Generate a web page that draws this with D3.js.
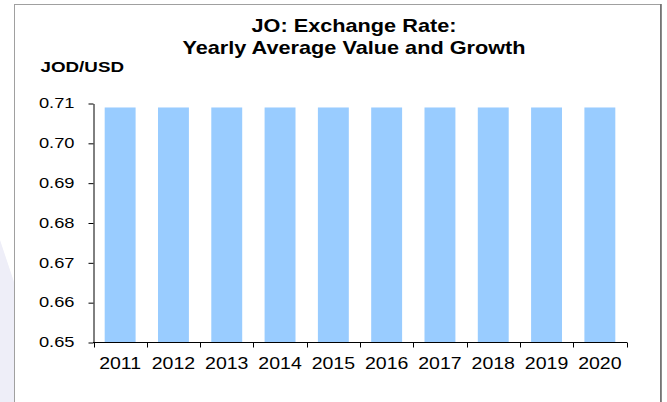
<!DOCTYPE html>
<html><head><meta charset="utf-8">
<script src="https://cdn.jsdelivr.net/npm/d3@7"></script>
<style>body{margin:0;background:#fff}svg{display:block}text{font-family:Arial,"Liberation Sans",sans-serif;fill:#000}</style>
</head><body>
<svg id="c" width="667" height="402"></svg>
<script>
const years = ["2011","2012","2013","2014","2015","2016","2017","2018","2019","2020"];
const rates = [0.709,0.709,0.709,0.709,0.709,0.709,0.709,0.709,0.709,0.709];
const yTicks = [0.65,0.66,0.67,0.68,0.69,0.70,0.71];
const titleLines = ["JO: Exchange Rate:","Yearly Average Value and Growth"];
const unitLabel = "JOD/USD";

const svg = d3.select("#c");
// faint background shape at left
svg.append("path").attr("d","M0,240 L14,282 L14,402 L0,402 Z").attr("fill","#eeeef8");
// frame
svg.append("rect").attr("x",14.5).attr("y",4.5).attr("width",646).attr("height",410)
  .attr("fill","#fff").attr("stroke","#a0a0a0").attr("stroke-width",1);
svg.append("line").attr("x1",661).attr("x2",661).attr("y1",4).attr("y2",402).attr("stroke","#666").attr("stroke-width",1.5);

const x = d3.scaleBand().domain(years).range([93.5,626.5]).paddingInner(0.42).paddingOuter(0.21);
const y = d3.scaleLinear().domain([0.65,0.71]).range([342.5,103.5]);

svg.selectAll("rect.bar").data(years).enter().append("rect").attr("class","bar")
  .attr("x",d=>x(d)).attr("width",x.bandwidth())
  .attr("y",(d,i)=>y(rates[i])).attr("height",(d,i)=>y(0.65)-y(rates[i]))
  .attr("fill","#99ccff");

const ya = svg.append("g").attr("transform","translate(93.5,0)")
  .call(d3.axisLeft(y).tickValues(yTicks).tickFormat("").tickSizeInner(5).tickSizeOuter(0));
ya.select(".domain").attr("stroke","#000");
const fmt = d3.format(".2f");
svg.selectAll("text.yl").data(yTicks).enter().append("text").attr("class","yl")
  .attr("transform",d=>`translate(74.5,${y(d)+4.8}) scale(1.18,1)`)
  .attr("text-anchor","end").attr("font-size",15.5).text(d=>fmt(d));

const xb = d3.scaleLinear().domain([0,10]).range([93.5,626.5]);
const xa = svg.append("g").attr("transform","translate(0,342.5)");
xa.append("line").attr("x1",93).attr("x2",627).attr("stroke","#000");
xa.selectAll("line.t").data(d3.range(11)).enter().append("line").attr("class","t")
  .attr("x1",d=>Math.round(xb(d))+0.5).attr("x2",d=>Math.round(xb(d))+0.5).attr("y1",0).attr("y2",5).attr("stroke","#000");
svg.selectAll("text.xl").data(years).enter().append("text").attr("class","xl")
  .attr("transform",d=>`translate(${x(d)+x.bandwidth()/2},368.5) scale(1.22,1)`)
  .attr("text-anchor","middle").attr("font-size",16).text(d=>d);

svg.selectAll("text.title").data(titleLines).enter().append("text").attr("class","title")
  .attr("transform",(d,i)=>`translate(354,${32.3+i*22}) scale(1.24,1)`).attr("text-anchor","middle")
  .attr("font-size",17.5).attr("font-weight","bold").text(d=>d);
svg.append("text").attr("transform","translate(40.5,72.3) scale(1.27,1)")
  .attr("font-size",14.8).attr("font-weight","bold").text(unitLabel);
</script>
</body></html>
